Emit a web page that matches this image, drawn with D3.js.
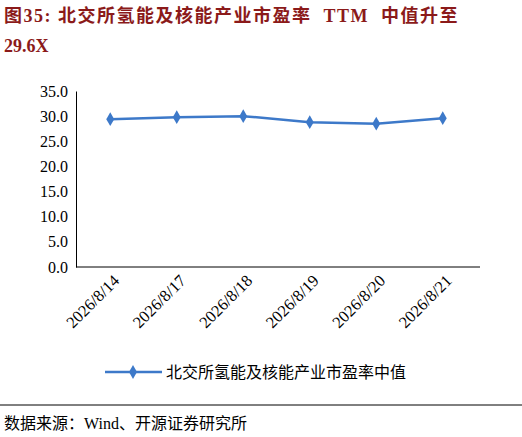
<!DOCTYPE html><html><head><meta charset="utf-8"><script src="https://cdn.jsdelivr.net/npm/d3@7"></script>
<style>body{margin:0;background:#fff}</style></head><body><svg id="c" width="522" height="437"></svg>
<script>
const categories=["2026/8/14","2026/8/17","2026/8/18","2026/8/19","2026/8/20","2026/8/21"];
const values=[29.4,29.8,30.0,28.8,28.5,29.6];
const yTicks=[0,5,10,15,20,25,30,35];
const seriesName="北交所氢能及核能产业市盈率中值";
const svg=d3.select("#c");
const cjk="'Noto Sans CJK SC',sans-serif", ser="'Liberation Serif','Times New Roman',serif";
const tc="#8B1A1A";
const t1=svg.append("text").attr("x",4).attr("y",22).attr("fill",tc).attr("font-weight","bold").attr("font-size",18).attr("letter-spacing",1.5);
t1.append("tspan").attr("font-family",cjk).text("图");
t1.append("tspan").attr("font-family",ser).text("35: ");
t1.append("tspan").attr("font-family",cjk).text("北交所氢能及核能产业市盈率");
t1.append("tspan").attr("font-family",ser).attr("dx",12).text("TTM");
t1.append("tspan").attr("font-family",cjk).attr("dx",12).text("中值升至");
svg.append("text").attr("x",4).attr("y",52).attr("fill",tc).attr("font-weight","bold").attr("font-size",18).attr("font-family",ser).text("29.6X");
const x=d3.scaleBand().domain(categories).range([77,476]);
const y=d3.scaleLinear().domain([0,35]).range([267,91]);
const g=svg.append("g");
const ya=g.append("g").attr("transform","translate(76,0)").call(d3.axisLeft(y).tickValues(yTicks).tickFormat(d3.format(".1f")).tickSize(0).tickPadding(8));
ya.select(".domain").attr("stroke","#000");
ya.selectAll("text").attr("font-family",ser).attr("font-size",16).attr("fill","#000");
const xa=g.append("g").attr("transform","translate(0,267)").call(d3.axisBottom(x).tickSize(0).tickPadding(6));
xa.select(".domain").attr("stroke","#000").attr("d","M76,0H480");
xa.selectAll("text").attr("font-family",ser).attr("font-size",16.5).attr("fill","#000")
 .attr("text-anchor","end").attr("dx","-0.2em").attr("dy","0.7em").attr("transform","rotate(-45)");
const col="#3D79C9";
const line=d3.line().x((d,i)=>x(categories[i])+x.bandwidth()/2).y(d=>y(d));
svg.append("path").datum(values).attr("d",line).attr("fill","none").attr("stroke",col).attr("stroke-width",2.5);
const sym=d3.symbol().type(d3.symbolDiamond).size(55);
svg.selectAll(".pt").data(values).join("path").attr("d",sym)
 .attr("transform",(d,i)=>`translate(${x(categories[i])+x.bandwidth()/2},${y(d)})`).attr("fill",col);
svg.append("line").attr("x1",105).attr("x2",162).attr("y1",372).attr("y2",372).attr("stroke",col).attr("stroke-width",2.5);
svg.append("path").attr("d",sym).attr("transform","translate(133,372)").attr("fill",col);
svg.append("text").attr("x",166).attr("y",378).attr("font-family",cjk).attr("font-size",16).text(seriesName);
svg.append("line").attr("x1",0).attr("x2",522).attr("y1",405).attr("y2",405).attr("stroke","#000").attr("stroke-width",1);
const s=svg.append("text").attr("x",4).attr("y",429).attr("font-size",16);
s.append("tspan").attr("font-family",cjk).text("数据来源：");
s.append("tspan").attr("font-family",ser).text("Wind");
s.append("tspan").attr("font-family",cjk).text("、开源证券研究所");
</script></body></html>
